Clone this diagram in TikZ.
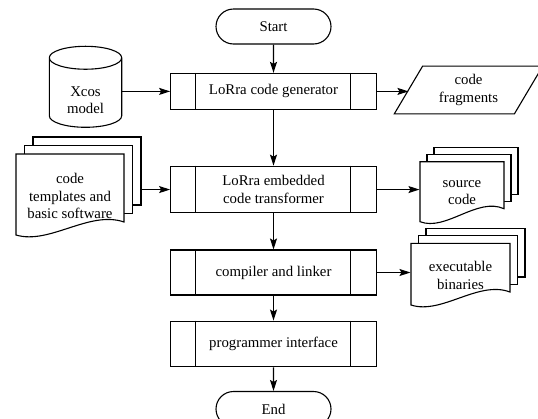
\documentclass[tikz,border=0pt]{standalone}
\usepackage{fontspec}
\setmainfont{Liberation Serif}
\usepackage{tikz}
\usetikzlibrary{shapes.geometric,shapes.misc,arrows.meta,positioning}

% stack of three pages: x, y (top left of front page), width, height, offset
\newcommand{\docstack}[5]{%
  \foreach \k in {2,1}
    \draw[page] ({#1+\k*#5},{#2-\k*#5}) rectangle ({#1+#3+\k*#5},{#2+#4-13-\k*#5});
  \draw[page] (#1,#2) -- ({#1+#3},#2) -- ({#1+#3},{#2+#4-13})
    .. controls ({#1+0.68*#3},{#2+#4-25}) and ({#1+0.31*#3},{#2+#4+10}) .. (#1,{#2+#4}) -- cycle;
}

\begin{document}
\begin{tikzpicture}[x=1pt, y=-1pt, line width=1.1pt,
  every node/.style={font=\fontsize{14.8}{17.3}\selectfont, align=center, inner sep=0pt},
  term/.style={rounded rectangle, draw, minimum width=115pt, minimum height=35pt},
  proc/.style={rectangle, draw, minimum width=205.7pt},
  store/.style={cylinder, shape border rotate=90, aspect=0.62, draw, minimum width=72.4pt, minimum height=81pt},
  page/.style={draw, fill=white},
  arr/.style={-{Stealth[length=11pt, width=7pt, inset=2pt]}}]
  \useasboundingbox (0,0) rectangle (538,418);

  % main column
  \node[term] (start) at (273.5,26.5) {Start};
  \node[proc, minimum height=36pt, below=28.3pt of start] (gen) {LoRra code generator};
  \node[proc, minimum height=46.7pt, below=55.7pt of gen] (emb) {LoRra embedded\\code transformer};
  \node[proc, minimum height=45pt, below=36pt of emb] (comp) {compiler and linker};
  \node[proc, minimum height=45.6pt, below=25pt of comp] (prog) {programmer interface};
  \node[term, below=23.7pt of prog] (end) {End};

  \foreach \n in {gen,emb,comp,prog} {
    \draw ([xshift=25.7pt]\n.north west) -- ([xshift=25.7pt]\n.south west);
    \draw ([xshift=-26.7pt]\n.north east) -- ([xshift=-26.7pt]\n.south east);
  }

  % inputs and outputs
  \node[store] (xcos) at (85.5,92.8) {\rule{0pt}{7.4pt}\\Xcos\\model};

  \node[minimum width=119pt, minimum height=46.6pt] (frag) at (468.5,90) {code\\fragments};
  \draw ([xshift=-14.15pt]frag.south west) -- ([xshift=14.15pt]frag.north west)
    -- ([xshift=14.15pt]frag.north east) -- ([xshift=-14.15pt]frag.south east) -- cycle;

  \docstack{16}{154}{108}{81}{8.5}
  \node[minimum width=108pt] (tmpl) at (70,196) {code\\templates and\\basic software};
  \coordinate (tmplback) at ([xshift=17pt]tmpl.east);

  \docstack{420}{161.7}{84}{60}{7}
  \node[minimum width=84pt] (src) at (462,192.9) {source\\code};

  \docstack{411}{243.3}{99}{61.7}{7.5}
  \node[minimum width=99pt] (bin) at (460.5,275.4) {executable\\binaries};

  % connectors
  \draw[arr] (start) -- (gen);
  \draw[arr] (gen) -- (emb);
  \draw[arr] (emb) -- (comp);
  \draw[arr] (comp) -- (prog);
  \draw[arr] (prog) -- (end);
  \draw[arr] (xcos.east |- gen.west) -- (gen.west);
  \draw[arr] (gen.east) -- (gen.east -| frag.west);
  \draw[arr] (tmplback |- emb.west) -- (emb.west);
  \draw[arr] (emb.east) -- (emb.east -| src.west);
  \draw[arr] (comp.east) -- (comp.east -| bin.west);
\end{tikzpicture}
\end{document}
